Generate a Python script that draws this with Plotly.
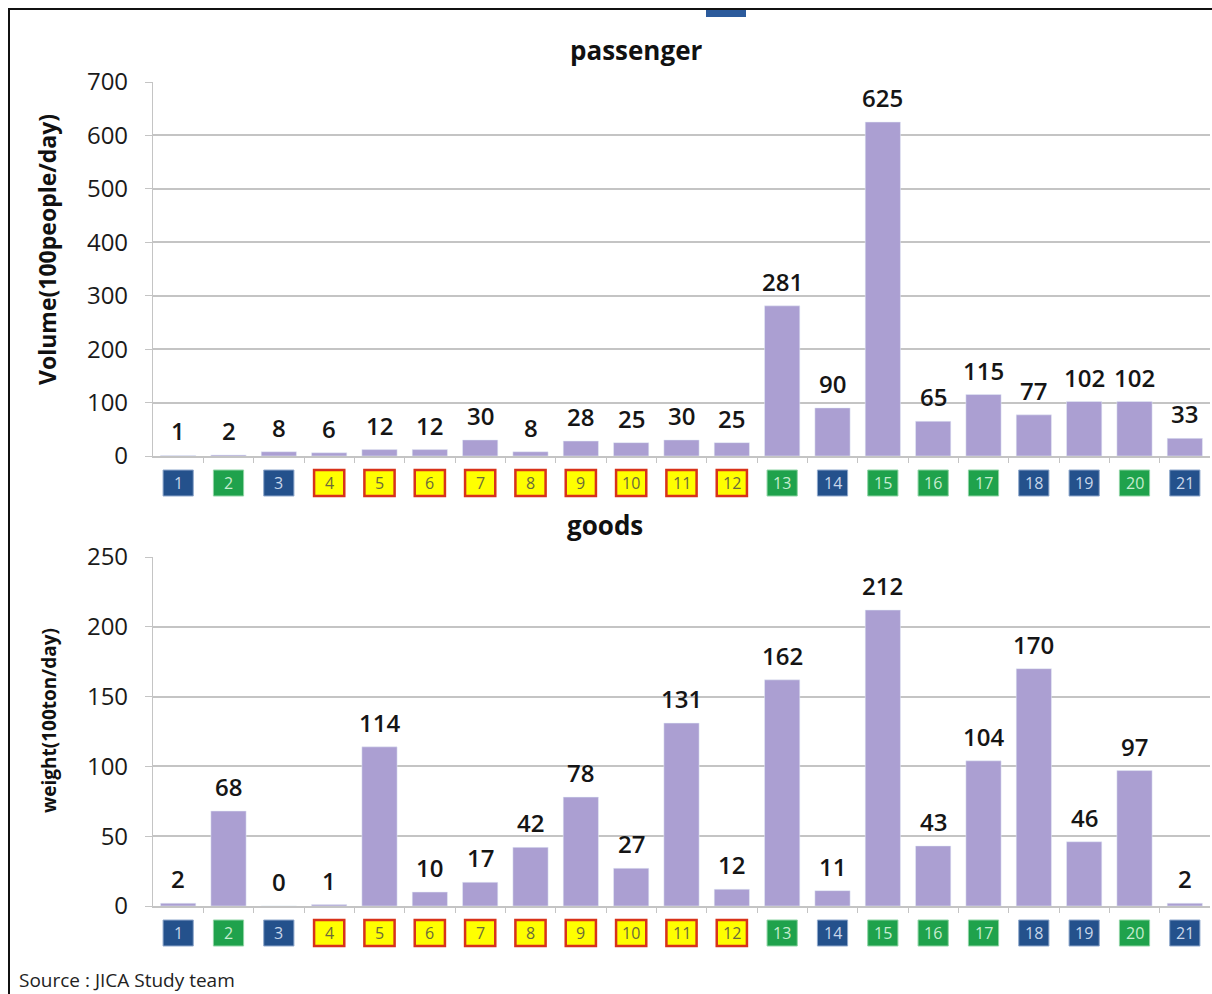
import plotly.graph_objects as go

# ---- data ----
categories = list(range(1, 22))
passenger = [1, 2, 8, 6, 12, 12, 30, 8, 28, 25, 30, 25, 281, 90, 625, 65, 115, 77, 102, 102, 33]
goods = [2, 68, 0, 1, 114, 10, 17, 42, 78, 27, 131, 12, 162, 11, 212, 43, 104, 170, 46, 97, 2]
groups = ["blue", "green", "blue", "yellow", "yellow", "yellow", "yellow", "yellow", "yellow",
          "yellow", "yellow", "yellow", "green", "blue", "green", "green", "green", "blue",
          "blue", "green", "blue"]
title_top = "passenger"
title_bottom = "goods"
ytitle_top = "Volume(100people/day)"
ytitle_bottom = "weight(100ton/day)"
source_text = "Source : JICA Study team"

BAR = "#ab9fd2"
GRID = "#c4c4c4"
FONT = "Open Sans"
box_style = {
    "blue": dict(fill="#24518c", line="#8fa8cc", text="#c9d6ea"),
    "green": dict(fill="#1fa24c", line="#8fd4a4", text="#c6ecd0"),
    "yellow": dict(fill="#ffff00", line="#d8321a", text="#6b6b3a"),
}

W, H = 1212, 994
def px_x(p):
    return p / W
def px_y(p):
    return 1 - p / H

fig = go.Figure()
fig.add_trace(go.Bar(x=categories, y=passenger, marker_color=BAR, width=0.7,
                     xaxis="x", yaxis="y", hoverinfo="x+y"))
fig.add_trace(go.Bar(x=categories, y=goods, marker_color=BAR, width=0.7,
                     xaxis="x2", yaxis="y2", hoverinfo="x+y"))

xdom = [px_x(153), px_x(1210)]
dom_top = [px_y(456), px_y(82)]
dom_bot = [px_y(906), px_y(557)]
common_x = dict(domain=xdom, range=[0.5, 21.5], showgrid=False, zeroline=False,
                showline=True, linecolor=GRID, linewidth=1.5,
                tickvals=[c + 0.5 for c in categories[:-1]], ticks="outside",
                ticklen=5, tickcolor=GRID, showticklabels=False, fixedrange=True)
common_y = dict(showgrid=True, gridcolor=GRID, gridwidth=1.5, zeroline=False,
                showline=True, linecolor=GRID, linewidth=1.2, ticks="outside",
                ticklen=7, tickcolor=GRID,
                tickfont=dict(family=FONT, size=24, color="#1a1a1a"), ticklabelstandoff=12)

fig.update_layout(
    width=W, height=H, margin=dict(l=0, r=0, t=0, b=0, autoexpand=False),
    paper_bgcolor="white", plot_bgcolor="white", showlegend=False, bargap=0.3,
    xaxis=dict(anchor="y", **common_x),
    xaxis2=dict(anchor="y2", **common_x),
    yaxis=dict(domain=dom_top, range=[0, 700], dtick=100, anchor="x", **common_y),
    yaxis2=dict(domain=dom_bot, range=[0, 250], dtick=50, anchor="x2", **common_y),
)

shapes = []
annotations = []
# value labels above bars
for xref, yref, vals in [("x", "y", passenger), ("x2", "y2", goods)]:
    for c, v in zip(categories, vals):
        annotations.append(dict(x=c, y=v, xref=xref, yref=yref, text=str(v), showarrow=False,
                                yanchor="bottom", yshift=6,
                                font=dict(family=FONT, size=24, color="#151515", weight=600)))

# category boxes below each axis (paper coords computed from axis domains)
for xref, dom in [("x", dom_top), ("x2", dom_bot)]:
    y1 = dom[0] - 14 / H
    y0 = dom[0] - 40 / H
    for c, g in zip(categories, groups):
        st = box_style[g]
        shapes.append(dict(type="rect", xref=xref, yref="paper", x0=c - 0.3, x1=c + 0.3,
                           y0=y0, y1=y1, fillcolor=st["fill"], layer="below",
                           line=dict(color=st["line"], width=2.5 if g == "yellow" else 1)))
        annotations.append(dict(x=c, y=(y0 + y1) / 2, xref=xref, yref="paper", text=str(c),
                                showarrow=False, yanchor="middle",
                                font=dict(family=FONT, size=16, color=st["text"])))

# frame
shapes.append(dict(type="rect", xref="paper", yref="paper", x0=px_x(9), x1=1.02,
                   y0=-0.02, y1=px_y(9), line=dict(color="#111", width=2), layer="above"))
# small blue mark at top
shapes.append(dict(type="rect", xref="paper", yref="paper", x0=px_x(706), x1=px_x(746),
                   y0=px_y(17), y1=px_y(10), fillcolor="#2c5b9c", line=dict(width=0)))

annotations += [
    dict(text=f"<b>{title_top}</b>", x=px_x(637), y=px_y(50), xref="paper", yref="paper",
         xanchor="center", yanchor="middle", showarrow=False,
         font=dict(family=FONT, size=26, color="#111")),
    dict(text=f"<b>{title_bottom}</b>", x=px_x(605), y=px_y(525), xref="paper", yref="paper",
         xanchor="center", yanchor="middle", showarrow=False,
         font=dict(family=FONT, size=26, color="#111")),
    dict(text=f"<b>{ytitle_top}</b>", x=px_x(47), y=px_y(250), xref="paper", yref="paper",
         xanchor="center", yanchor="middle", textangle=-90, showarrow=False,
         font=dict(family=FONT, size=23, color="#111")),
    dict(text=f"<b>{ytitle_bottom}</b>", x=px_x(49), y=px_y(720), xref="paper", yref="paper",
         xanchor="center", yanchor="middle", textangle=-90, showarrow=False,
         font=dict(family=FONT, size=19, color="#111")),
    dict(text=source_text, x=px_x(17), y=px_y(980), xref="paper", yref="paper",
         xanchor="left", yanchor="middle", showarrow=False,
         font=dict(family=FONT, size=19, color="#222")),
]
fig.update_layout(shapes=shapes, annotations=annotations)

fig.write_html("out.html")
